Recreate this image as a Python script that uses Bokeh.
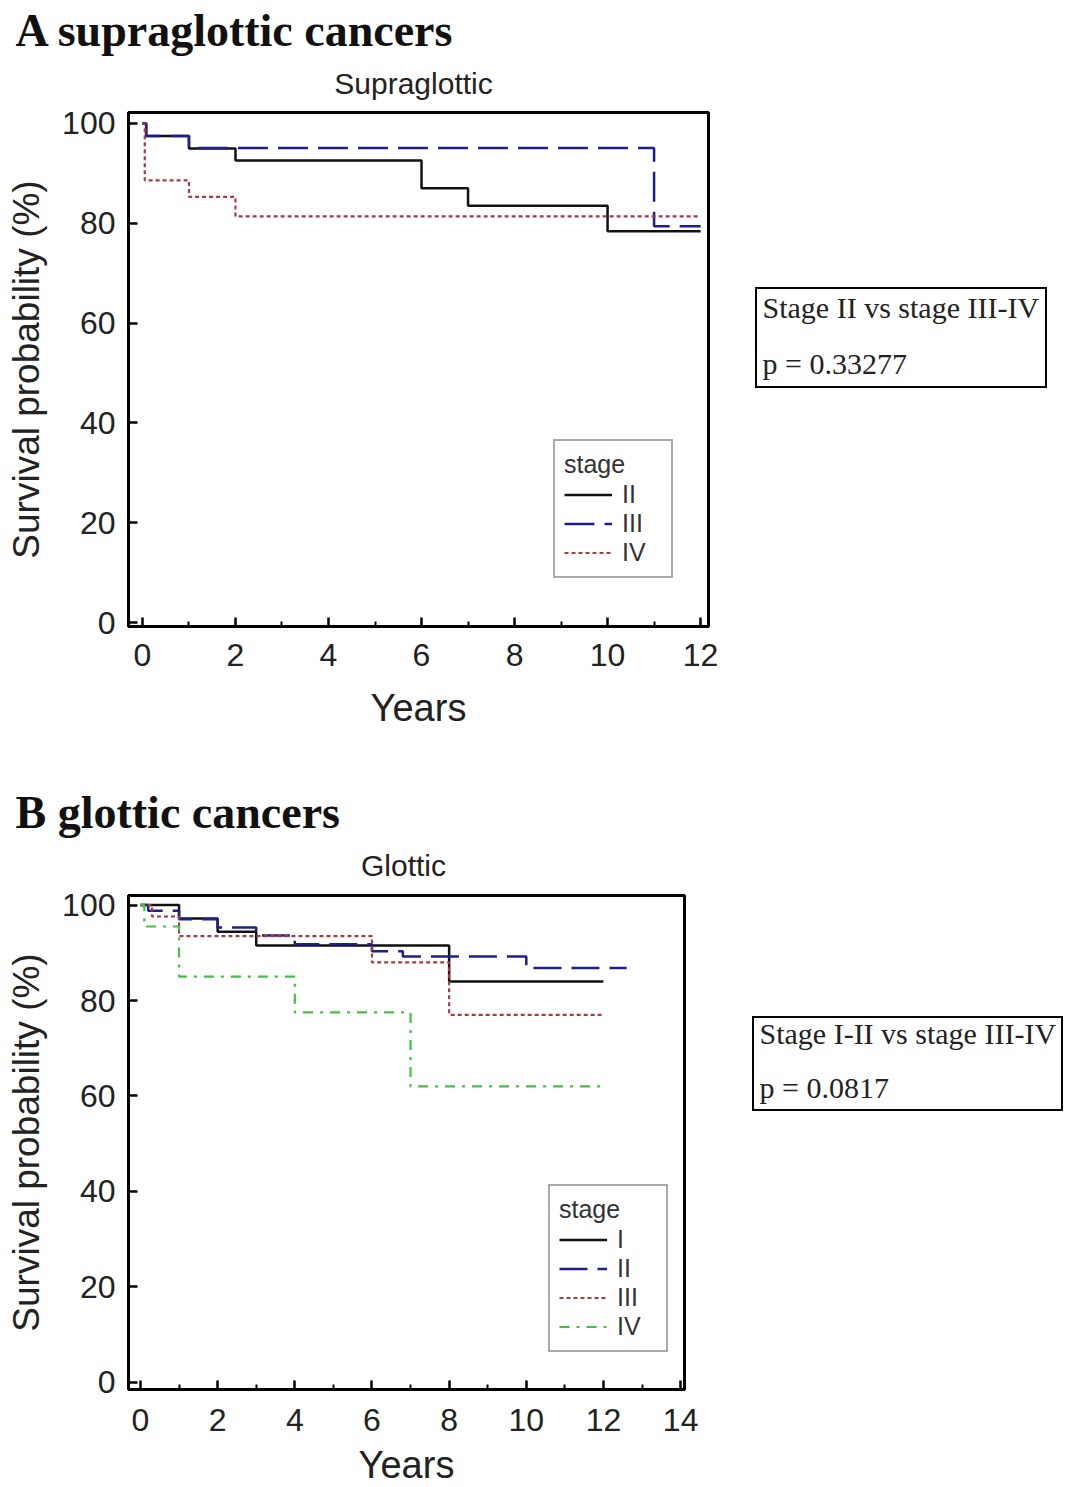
from bokeh.plotting import figure
from bokeh.models import (Range1d, FixedTicker, Label, Legend, LegendItem,
                          Spacer)
from bokeh.layouts import column, row
from bokeh.embed import file_html
from bokeh.resources import INLINE

# Kaplan-Meier estimates: step times (years) and survival (%) by stage
sup_ii_years = [0, 0.08, 1, 2, 6, 7, 10, 12]
sup_ii_surv = [100, 97.5, 95, 92.6, 87, 83.5, 78.4, 78.4]
sup_iii_years = [0, 0.08, 1, 11, 12]
sup_iii_surv = [100, 97.5, 95.1, 79.4, 79.4]
sup_iv_years = [0, 0.05, 1, 2, 12]
sup_iv_surv = [100, 88.6, 85.3, 81.4, 81.4]

gl_i_years = [0, 1, 2, 3, 8, 12]
gl_i_surv = [100, 97.2, 94.4, 91.5, 84, 84]
gl_ii_years = [0, 0.2, 1, 2, 3, 4, 6, 6.8, 10, 12.6]
gl_ii_surv = [100, 98.8, 97, 95.3, 93.6, 91.8, 90.3, 89.2, 86.8, 86.8]
gl_iii_years = [0, 0.3, 1, 6, 8, 12]
gl_iii_surv = [100, 97.6, 93.5, 88, 77, 77]
gl_iv_years = [0, 0.1, 1, 4, 7, 12]
gl_iv_surv = [100, 95.5, 85, 77.5, 62, 62]

y_ticks = [0, 20, 40, 60, 80, 100]

SANS = "Liberation Sans"
SERIF = "Liberation Serif"
W = 1066
LEFT = 128
PAD_TOP = 10


def blank(w, h):
    """A bare canvas (no axes, no outline) used for free-standing text."""
    b = figure(frame_width=w, frame_height=h, output_backend="svg",
               toolbar_location=None, min_border=0,
               x_range=Range1d(0, w), y_range=Range1d(0, h),
               x_axis_location=None, y_axis_location=None)
    b.grid.visible = False
    b.outline_line_color = None
    return b


def header(h, heading, heading_y, subtitle, sub_xy):
    b = blank(W, h)
    b.add_layout(Label(x=15, y=h - heading_y, text=heading,
                       anchor="center_left", text_font=SERIF,
                       text_font_size="46px", text_font_style="bold",
                       text_color="#111111"))
    sx, sy = sub_xy
    b.add_layout(Label(x=sx, y=h - sy, text=subtitle, anchor="center",
                       text_font=SANS, text_font_size="30px",
                       text_color="#222222"))
    return b


def stat_box(w, h, lines, centers):
    b = blank(w, h)
    b.outline_line_color = "black"
    b.outline_line_width = 3
    for txt, yc in zip(lines, centers):
        b.add_layout(Label(x=7, y=h - yc, text=txt, anchor="center_left",
                           text_font=SERIF, text_font_size="30px",
                           text_color="#222222"))
    return b


def style_axes(p, x_major, x_minor, tick_standoff, label_standoff):
    p.xaxis.ticker = FixedTicker(ticks=x_major, minor_ticks=x_minor)
    p.yaxis.ticker = FixedTicker(ticks=y_ticks, minor_ticks=[])
    for ax in (p.xaxis[0], p.yaxis[0]):
        ax.axis_line_width = 3
        ax.axis_line_color = "black"
        ax.major_tick_in = 9
        ax.major_tick_out = 0
        ax.minor_tick_in = 5
        ax.minor_tick_out = 0
        ax.major_tick_line_width = 2.5
        ax.minor_tick_line_width = 2
        ax.major_label_text_font = SANS
        ax.major_label_text_font_size = "32px"
        ax.major_label_text_color = "#222222"
        ax.axis_label_text_font = SANS
        ax.axis_label_text_font_style = "normal"
        ax.axis_label_text_color = "#222222"
    p.xaxis.major_label_standoff = tick_standoff
    p.yaxis.major_label_standoff = 13
    p.xaxis.axis_label = "Years"
    p.xaxis.axis_label_text_font_size = "38px"
    p.xaxis.axis_label_standoff = label_standoff
    p.yaxis.axis_label = "Survival probability (%)"
    p.yaxis.axis_label_text_font_size = "37px"
    p.yaxis.axis_label_standoff = 12


def panel(height, frame_w, frame_h, right, xr, yr, x_major, x_minor,
          curves, legend_loc, tick_standoff, label_standoff):
    p = figure(frame_width=frame_w, frame_height=frame_h,
               output_backend="svg", toolbar_location=None,
               x_range=Range1d(*xr), y_range=Range1d(*yr),
               min_border_left=LEFT, min_border_right=right,
               min_border_top=PAD_TOP,
               min_border_bottom=height - PAD_TOP - frame_h)
    p.grid.visible = False
    p.outline_line_color = "black"
    p.outline_line_width = 3
    p.background_fill_color = "white"
    p.border_fill_color = "white"
    style_axes(p, x_major, x_minor, tick_standoff, label_standoff)

    items = []
    for name, xs, ys, color, dash, lw in curves:
        r = p.step(xs, ys, mode="after", line_color=color, line_width=lw,
                   line_dash=dash)
        items.append(LegendItem(label=name, renderers=[r]))

    leg = Legend(items=items, title="stage", location=legend_loc,
                 border_line_color="#555555", border_line_width=2,
                 background_fill_alpha=1,
                 title_text_font=SANS, title_text_font_size="25px",
                 title_text_font_style="normal",
                 title_text_color="#333333", title_standoff=1,
                 label_text_font=SANS, label_text_font_size="25px",
                 label_text_color="#333333", label_standoff=10,
                 label_width=40, label_height=19,
                 glyph_width=48, glyph_height=19, spacing=0,
                 padding=9, margin=0)
    p.add_layout(leg)
    return p


# vertical bands of the page (pixels)
HDR1 = 112 - PAD_TOP            # header above panel A
ROW1 = 745 - HDR1               # panel A with its axes
HDR2 = 895 - PAD_TOP - 745      # header above panel B
ROW2 = 1487 - 895 + PAD_TOP     # panel B with its axes

top_header = header(HDR1, "A supraglottic cancers", 30, "Supraglottic",
                    (413, 83))
top_panel = panel(
    ROW1, 580, 514, 755 - 708, (-0.3, 12.17), (-0.8, 102.2),
    [0, 2, 4, 6, 8, 10, 12], [1, 3, 5, 7, 9, 11],
    [("II", sup_ii_years, sup_ii_surv, "#111111", "solid", 2.5),
     ("III", sup_iii_years, sup_iii_surv, "#1e1e8c", "30 10", 2.5),
     ("IV", sup_iv_years, sup_iv_surv, "#a83a44", "4 3", 2.2)],
    (425, 48), 17, 18)
top_box = stat_box(292, 101, ["Stage II vs stage III-IV", "p = 0.33277"],
                   [20, 76])

bottom_header = header(HDR2, "B glottic cancers", 812 - 745, "Glottic",
                       (403, 865 - 745))
bottom_panel = panel(
    ROW2, 556, 494, 752 - 684, (-0.31, 14.1), (-1.5, 102.0),
    [0, 2, 4, 6, 8, 10, 12, 14], [1, 3, 5, 7, 9, 11, 13],
    [("I", gl_i_years, gl_i_surv, "#111111", "solid", 2.5),
     ("II", gl_ii_years, gl_ii_surv, "#1e1e8c", "28 10", 2.5),
     ("III", gl_iii_years, gl_iii_surv, "#a83a44", "4 3", 2.2),
     ("IV", gl_iv_years, gl_iv_surv, "#45bf45", "10 7 3 7", 2.2)],
    (420, 37), 19, 10)
bottom_box = stat_box(311, 95, ["Stage I-II vs stage III-IV", "p = 0.0817"],
                      [17, 71])

layout = column(
    top_header,
    row(top_panel, column(Spacer(width=292, height=287 - HDR1), top_box)),
    bottom_header,
    row(bottom_panel,
        column(Spacer(width=311, height=1016 - 745 - HDR2), bottom_box)),
    spacing=0)
open("out.html", "w").write(file_html(layout, INLINE))
